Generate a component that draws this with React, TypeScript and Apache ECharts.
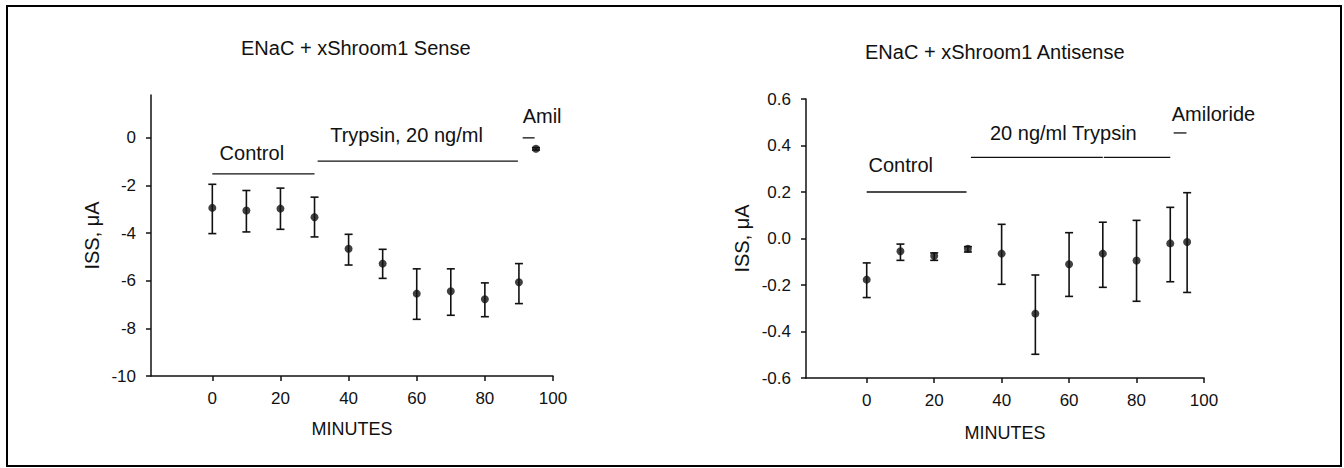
import React, { useEffect, useRef } from "react";
import * as echarts from "echarts";

// ---- data ----
const minutes = [0, 10, 20, 30, 40, 50, 60, 70, 80, 90, 95];

const senseMean = [-2.94, -3.05, -2.97, -3.33, -4.66, -5.28, -6.54, -6.44, -6.78, -6.06, -0.46];
const senseHigh = [-1.95, -2.21, -2.11, -2.49, -4.05, -4.68, -5.5, -5.5, -6.09, -5.28, -0.41];
const senseLow = [-4.02, -3.95, -3.84, -4.16, -5.34, -5.9, -7.62, -7.45, -7.51, -6.96, -0.51];

const antiMean = [-0.177, -0.055, -0.075, -0.044, -0.065, -0.323, -0.111, -0.065, -0.095, -0.021, -0.015];
const antiHigh = [-0.105, -0.024, -0.062, -0.035, 0.061, -0.157, 0.025, 0.07, 0.078, 0.134, 0.197];
const antiLow = [-0.254, -0.094, -0.094, -0.058, -0.197, -0.498, -0.249, -0.21, -0.27, -0.186, -0.232];

// annotation segments: [xStart, xEnd, y]
const senseSegments = [
  [0, 30, -1.51],
  [30.9, 89.7, -0.98],
  [91.1, 94.6, 0],
];
const senseLabels = ["Control", "Trypsin, 20 ng/ml", "Amil"];
const senseLabelPos = [
  [11.6, -0.63],
  [57, 0.14],
  [96.8, 0.91],
];

const antiSegments = [
  [0, 29.6, 0.2],
  [30.9, 70, 0.349],
  [70.3, 90, 0.349],
  [91, 94.8, 0.454],
];
const antiLabels = ["Control", "20 ng/ml Trypsin", "Amiloride"];
const antiLabelPos = [
  [10.1, 0.318],
  [58.3, 0.454],
  [102.8, 0.535],
];

const titles = ["ENaC + xShroom1 Sense", "ENaC + xShroom1 Antisense"];
const xTicks = [0, 20, 40, 60, 80, 100];
const senseYTicks = [-10, -8, -6, -4, -2, 0];
const antiYTicks = [-0.6, -0.4, -0.2, 0, 0.2, 0.4, 0.6];

const FONT = "Liberation Sans";
const INK = "#111";

function errorSeries(idx: number, low: number[], high: number[]) {
  return {
    type: "custom",
    xAxisIndex: idx,
    yAxisIndex: idx,
    clip: false,
    silent: true,
    data: minutes.map((m, i) => [m, low[i], high[i]]),
    renderItem: (params: any, api: any) => {
      const top = api.coord([api.value(0), api.value(2)]);
      const bot = api.coord([api.value(0), api.value(1)]);
      const w = 4;
      const st = { stroke: INK, lineWidth: 1.6 };
      return {
        type: "group",
        children: [
          { type: "line", shape: { x1: top[0], y1: top[1], x2: bot[0], y2: bot[1] }, style: st },
          { type: "line", shape: { x1: top[0] - w, y1: top[1], x2: top[0] + w, y2: top[1] }, style: st },
          { type: "line", shape: { x1: bot[0] - w, y1: bot[1], x2: bot[0] + w, y2: bot[1] }, style: st },
        ],
      };
    },
  };
}

function segmentSeries(idx: number, segs: number[][]) {
  return {
    type: "custom",
    xAxisIndex: idx,
    yAxisIndex: idx,
    clip: false,
    silent: true,
    data: segs,
    renderItem: (params: any, api: any) => {
      const a = api.coord([api.value(0), api.value(2)]);
      const b = api.coord([api.value(1), api.value(2)]);
      return {
        type: "line",
        shape: { x1: a[0], y1: a[1], x2: b[0], y2: b[1] },
        style: { stroke: INK, lineWidth: 1.3 },
      };
    },
  };
}

function labelSeries(idx: number, pos: number[][], labels: string[]) {
  return {
    type: "custom",
    xAxisIndex: idx,
    yAxisIndex: idx,
    clip: false,
    silent: true,
    data: pos,
    renderItem: (params: any, api: any) => {
      const p = api.coord([api.value(0), api.value(1)]);
      return {
        type: "text",
        x: p[0],
        y: p[1],
        style: {
          text: labels[params.dataIndex],
          fill: INK,
          font: `20px "${FONT}"`,
          align: "center",
          verticalAlign: "middle",
        },
      };
    },
  };
}

function pointSeries(idx: number, mean: number[]) {
  return {
    type: "scatter",
    xAxisIndex: idx,
    yAxisIndex: idx,
    symbol: "circle",
    symbolSize: 8,
    itemStyle: { color: INK },
    data: minutes.map((m, i) => [m, mean[i]]),
    z: 5,
  };
}

const axisLineStyle = { color: INK, width: 1.5 };

function xAxis(idx: number, gap: number) {
  return {
    type: "value",
    gridIndex: idx,
    min: -18,
    max: 100,
    name: "MINUTES",
    nameLocation: "middle",
    nameGap: gap,
    nameTextStyle: { fontFamily: FONT, fontSize: 18, color: INK },
    axisLine: { show: true, onZero: false, lineStyle: axisLineStyle },
    axisTick: { show: true, length: 5, lineStyle: axisLineStyle, customValues: xTicks },
    axisLabel: { fontFamily: FONT, fontSize: 17, color: INK, margin: 14, customValues: xTicks },
    splitLine: { show: false },
  };
}

export default function App() {
  const ref = useRef<HTMLDivElement>(null);
  useEffect(() => {
    if (!ref.current) return;
    const chart = echarts.init(ref.current, null, { renderer: "svg" });
    const option: any = {
      animation: false,
      backgroundColor: "#fff",
      title: [
        {
          text: titles[0],
          left: 236,
          top: 33,
          textStyle: { fontFamily: FONT, fontSize: 20, fontWeight: "normal", color: INK },
        },
        {
          text: titles[1],
          left: 860,
          top: 37,
          textStyle: { fontFamily: FONT, fontSize: 20, fontWeight: "normal", color: INK },
        },
      ],
      graphic: [
        {
          type: "rect",
          shape: { x: 7, y: 6, width: 1334, height: 460 },
          style: { fill: "none", stroke: "#000", lineWidth: 2 },
          silent: true,
        },
      ],
      grid: [
        { left: 151, top: 95, right: 791, bottom: 92, containLabel: false },
        { left: 806, top: 99, right: 140, bottom: 90, containLabel: false },
      ],
      xAxis: [xAxis(0, 44), xAxis(1, 46)],
      yAxis: [
        {
          type: "value",
          gridIndex: 0,
          min: -10,
          max: 1.8,
          name: "ISS, μA",
          nameLocation: "middle",
          nameGap: 49,
          nameTextStyle: { fontFamily: FONT, fontSize: 20, color: INK },
          axisLine: { show: true, onZero: false, lineStyle: axisLineStyle },
          axisTick: { show: true, length: 5, lineStyle: axisLineStyle, customValues: senseYTicks },
          axisLabel: { fontFamily: FONT, fontSize: 17, color: INK, margin: 15, customValues: senseYTicks },
          splitLine: { show: false },
        },
        {
          type: "value",
          gridIndex: 1,
          min: -0.6,
          max: 0.6,
          name: "ISS, μA",
          nameLocation: "middle",
          nameGap: 54,
          nameTextStyle: { fontFamily: FONT, fontSize: 20, color: INK },
          axisLine: { show: true, onZero: false, lineStyle: axisLineStyle },
          axisTick: { show: true, length: 5, lineStyle: axisLineStyle, customValues: antiYTicks },
          axisLabel: {
            fontFamily: FONT,
            fontSize: 17,
            color: INK,
            margin: 15,
            customValues: antiYTicks,
            formatter: (v: number) => v.toFixed(1),
          },
          splitLine: { show: false },
        },
      ],
      series: [
        errorSeries(0, senseLow, senseHigh),
        pointSeries(0, senseMean),
        segmentSeries(0, senseSegments),
        labelSeries(0, senseLabelPos, senseLabels),
        errorSeries(1, antiLow, antiHigh),
        pointSeries(1, antiMean),
        segmentSeries(1, antiSegments),
        labelSeries(1, antiLabelPos, antiLabels),
      ],
    };
    chart.setOption(option);
    return () => chart.dispose();
  }, []);
  return (
    <div
      ref={ref}
      style={{ position: "fixed", left: 0, top: 0, width: 1344, height: 468 }}
    />
  );
}
